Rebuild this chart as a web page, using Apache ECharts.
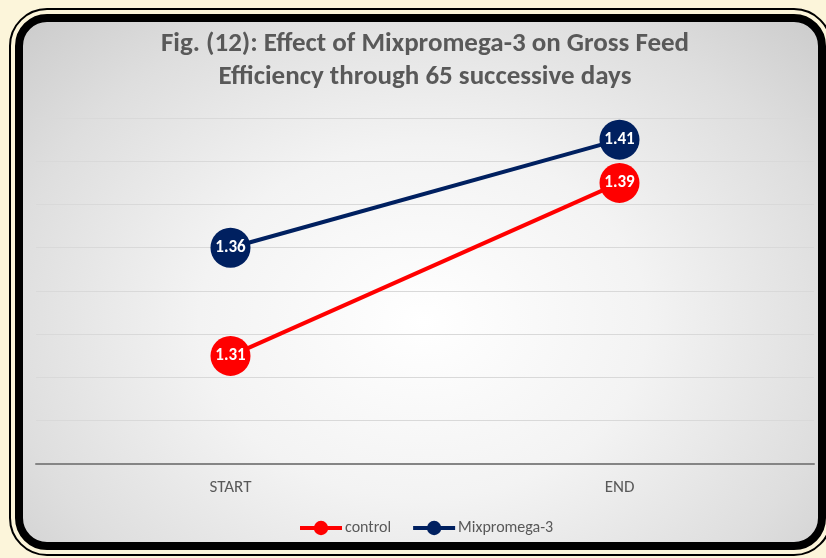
<!DOCTYPE html>
<html>
<head>
<meta charset="utf-8">
<script src="https://cdn.jsdelivr.net/npm/echarts@6/dist/echarts.min.js"></script>
<style>
  html, body { margin: 0; padding: 0; }
  body { width: 826px; height: 558px; background: #fcf5da; position: relative; overflow: hidden; }
  .outer { position: absolute; left: 9px; top: 8px; width: 819px; height: 544px; border: 2px solid #000; border-radius: 38px; }
  .inner { position: absolute; left: 15px; top: 14px; width: 795px; height: 520px; border: 8px solid #000; border-radius: 32px;
           background: radial-gradient(ellipse 560px 440px at 400px 300px, #ffffff 0%, #f3f3f3 40%, #dedede 75%, #cbcbcb 100%); }
  #main { position: absolute; left: 0; top: 0; width: 826px; height: 558px; }
</style>
</head>
<body>
<div class="outer"></div>
<div class="inner"></div>
<div id="main"></div>
<script>
  // 数据
  var categories = ['START', 'END'];
  var controlData = [1.31, 1.39];
  var mixData = [1.36, 1.41];
  var seriesNames = ['control', 'Mixpromega-3'];

  var fontFam = 'Carlito, "Open Sans", "Noto Sans", sans-serif';
  var myChart = echarts.init(document.getElementById('main'));

  function lineSeries(name, data, color) {
    return {
      name: name,
      type: 'line',
      data: data,
      symbol: 'circle',
      symbolSize: 40,
      lineStyle: { color: color, width: 4 },
      itemStyle: { color: color },
      label: {
        show: true,
        position: 'inside',
        color: '#fff',
        fontWeight: 'bold',
        fontSize: 17,
        fontFamily: fontFam,
        formatter: function (p) { return p.value.toFixed(2); }
      },
      emphasis: { disabled: true }
    };
  }

  var option = {
    backgroundColor: 'transparent',
    animation: false,
    graphic: [{
      type: 'text',
      x: 425,
      y: 28,
      style: {
        text: 'Fig. (12): Effect of Mixpromega-3 on Gross Feed\nEfficiency through 65 successive days',
        textAlign: 'center',
        textVerticalAlign: 'top',
        fill: '#595959',
        font: 'bold 27px ' + fontFam,
        lineHeight: 33
      }
    }],
    legend: {
      data: seriesNames,
      left: 293,
      top: 515,
      itemWidth: 42,
      itemHeight: 18,
      itemGap: 20,
      lineStyle: { width: 4 },
      textStyle: { color: '#595959', fontSize: 16, fontFamily: fontFam, padding: [0, 0, 0, -2] }
    },
    grid: { left: 36, right: 12, top: 118, bottom: 94 },
    xAxis: {
      type: 'category',
      data: categories,
      axisLine: { lineStyle: { color: '#858585', width: 2 } },
      axisTick: { show: false },
      axisLabel: { color: '#595959', fontSize: 17, fontFamily: fontFam, margin: 15 }
    },
    yAxis: {
      type: 'value',
      min: 1.26,
      max: 1.42,
      interval: 0.02,
      axisLabel: { show: false },
      axisLine: { show: false },
      axisTick: { show: false },
      splitLine: { lineStyle: { color: '#d9d9d9', width: 1 } }
    },
    series: [
      lineSeries(seriesNames[0], controlData, '#ff0000'),
      lineSeries(seriesNames[1], mixData, '#002060')
    ]
  };
  myChart.setOption(option);
</script>
</body>
</html>
